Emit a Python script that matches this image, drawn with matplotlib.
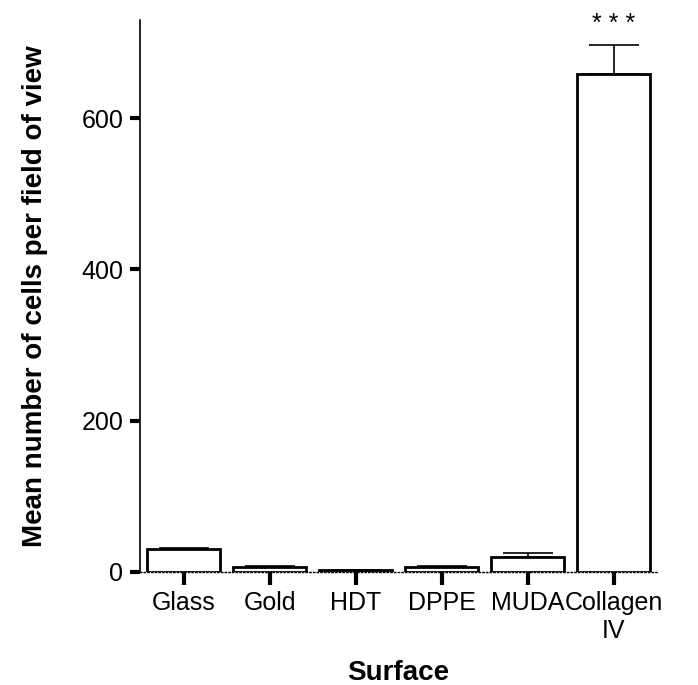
import matplotlib
matplotlib.use('Agg')
import matplotlib.pyplot as plt
import numpy as np

plt.rcParams['font.family'] = ['Liberation Sans', 'DejaVu Sans']

surfaces = ['Glass', 'Gold', 'HDT', 'DPPE', 'MUDA', 'Collagen\nIV']
means = [30, 7, 2, 7, 20, 659]
errors = [2, 1, 1, 1, 5, 38]
signif = ['', '', '', '', '', '* * *']

fig = plt.figure(figsize=(6.98, 6.85), dpi=100)
ax = fig.add_axes([0.2006, 0.165, 0.74, 0.806])

x = np.arange(len(surfaces))
bars = ax.bar(x, means, width=0.85, color='white', edgecolor='black', linewidth=2, zorder=3)
ax.errorbar(x, means, yerr=[np.zeros(len(errors)), errors], fmt='none',
            ecolor='black', elinewidth=1.2, capsize=18, capthick=1.2, zorder=2)

for xi, m, e, s in zip(x, means, errors, signif):
    if s:
        ax.text(xi, m + e + 12, s, ha='center', va='bottom', fontsize=18)

ax.set_xlim(-0.51, 5.5)
ax.set_ylim(0, 730)
ax.set_yticks([0, 200, 400, 600])
ax.set_xticks(x)
ax.set_xticklabels(surfaces, fontsize=18)
ax.tick_params(axis='y', labelsize=18, length=7, width=3, direction='out', pad=5)
ax.tick_params(axis='x', length=9, width=3, direction='out', pad=5)

ax.spines['top'].set_visible(False)
ax.spines['right'].set_visible(False)
ax.spines['left'].set_linewidth(1.2)
ax.spines['bottom'].set_linestyle(':')
ax.spines['bottom'].set_linewidth(1)

ax.set_ylabel('Mean number of cells per field of view', fontsize=20, fontweight='bold', labelpad=24)
ax.set_xlabel('Surface', fontsize=20, fontweight='bold', labelpad=12)

fig.savefig('out.png', dpi=100)
